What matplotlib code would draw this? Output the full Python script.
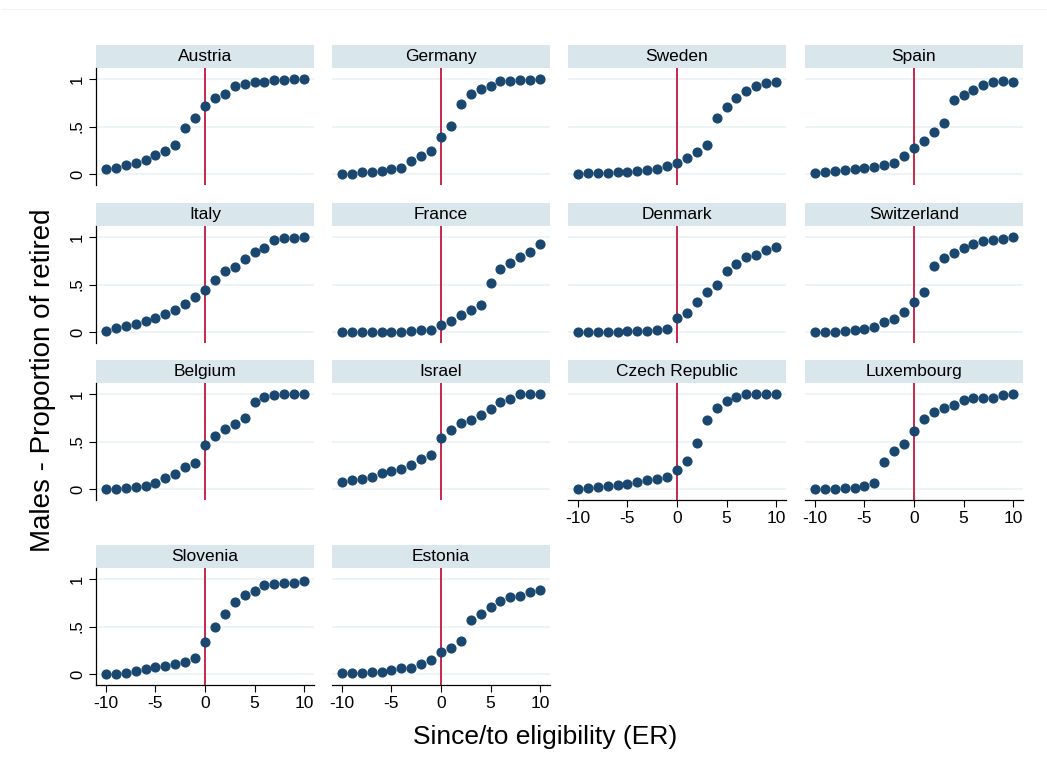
import matplotlib
matplotlib.use("Agg")
import matplotlib.pyplot as plt
import numpy as np

plt.rcParams['font.family'] = ['Liberation Sans', 'DejaVu Sans']

years = list(range(-10, 11))

countries = ["Austria", "Germany", "Sweden", "Spain",
             "Italy", "France", "Denmark", "Switzerland",
             "Belgium", "Israel", "Czech Republic", "Luxembourg",
             "Slovenia", "Estonia"]

austria = [0.05, 0.06, 0.094, 0.12, 0.15, 0.196, 0.24, 0.30, 0.486, 0.594, 0.72,
           0.80, 0.846, 0.923, 0.951, 0.969, 0.969, 0.99, 0.99, 0.997, 0.997]
germany = [0.0, 0.0, 0.017, 0.02, 0.028, 0.05, 0.066, 0.136, 0.185, 0.245, 0.388,
           0.503, 0.734, 0.839, 0.895, 0.93, 0.979, 0.983, 0.986, 0.99, 0.997]
sweden = [0.0, 0.007, 0.007, 0.007, 0.017, 0.02, 0.028, 0.042, 0.056, 0.087, 0.119,
          0.168, 0.231, 0.308, 0.587, 0.703, 0.804, 0.878, 0.923, 0.958, 0.972]
spain = [0.014, 0.021, 0.028, 0.038, 0.049, 0.059, 0.077, 0.094, 0.119, 0.185, 0.273,
         0.35, 0.437, 0.538, 0.78, 0.836, 0.885, 0.941, 0.972, 0.976, 0.969]
italy = [0.014, 0.038, 0.063, 0.087, 0.112, 0.15, 0.189, 0.234, 0.297, 0.364, 0.444,
         0.545, 0.643, 0.689, 0.769, 0.843, 0.888, 0.965, 0.986, 0.993, 0.997]
france = [0.0, 0.0, 0.0, 0.0, 0.0, 0.003, 0.003, 0.007, 0.017, 0.021, 0.07,
          0.112, 0.178, 0.234, 0.28, 0.521, 0.664, 0.731, 0.794, 0.846, 0.923]
denmark = [0.0, 0.0, 0.0, 0.0, 0.0, 0.007, 0.01, 0.014, 0.017, 0.028, 0.143,
           0.2, 0.315, 0.416, 0.49, 0.647, 0.717, 0.794, 0.815, 0.86, 0.892]
switzerland = [0.0, 0.0, 0.0, 0.007, 0.021, 0.035, 0.049, 0.101, 0.14, 0.206, 0.315,
               0.423, 0.699, 0.783, 0.829, 0.888, 0.927, 0.955, 0.965, 0.983, 0.997]
belgium = [0.0, 0.003, 0.01, 0.021, 0.031, 0.066, 0.112, 0.154, 0.227, 0.276, 0.458,
           0.563, 0.636, 0.685, 0.752, 0.913, 0.969, 0.993, 0.997, 0.997, 0.997]
israel = [0.073, 0.091, 0.105, 0.129, 0.168, 0.189, 0.21, 0.255, 0.315, 0.357, 0.535,
          0.619, 0.692, 0.731, 0.776, 0.843, 0.916, 0.948, 1.0, 1.0, 1.0]
czech = [0.004, 0.007, 0.025, 0.035, 0.042, 0.049, 0.074, 0.095, 0.109, 0.123, 0.196,
         0.298, 0.488, 0.726, 0.849, 0.926, 0.968, 0.996, 0.996, 0.996, 1.0]
luxembourg = [0.0, 0.0, 0.004, 0.007, 0.014, 0.028, 0.063, 0.284, 0.396, 0.474, 0.614,
              0.74, 0.807, 0.853, 0.881, 0.937, 0.961, 0.961, 0.961, 0.986, 0.996]
slovenia = [0.0, 0.0, 0.014, 0.031, 0.052, 0.07, 0.087, 0.101, 0.129, 0.171, 0.336,
            0.497, 0.629, 0.755, 0.836, 0.871, 0.937, 0.944, 0.955, 0.962, 0.983]
estonia = [0.007, 0.01, 0.014, 0.024, 0.024, 0.038, 0.059, 0.066, 0.105, 0.147, 0.227,
           0.276, 0.343, 0.573, 0.633, 0.706, 0.769, 0.815, 0.825, 0.864, 0.885]

series = [austria, germany, sweden, spain, italy, france, denmark, switzerland,
          belgium, israel, czech, luxembourg, slovenia, estonia]

W, H = 1047, 775
fig = plt.figure(figsize=(W / 100, H / 100), dpi=100)

col_left = [96, 332, 568, 805]
row_strip_top = [45, 203, 360, 545]
pw, sh, ph = 218, 23, 117

dot_color = "#1a476f"
line_color = "#c4163f"
strip_color = "#d9e6eb"
grid_color = "#eaf2f3"

# x axis is shown on the last panel of each column
bottom_panels = {10, 11, 12, 13}

for i, (name, vals) in enumerate(zip(countries, series)):
    r, c = divmod(i, 4)
    x0 = col_left[c]
    top = row_strip_top[r]
    # strip
    sax = fig.add_axes([x0 / W, 1 - (top + sh) / H, pw / W, sh / H])
    sax.set_facecolor(strip_color)
    sax.set_xticks([])
    sax.set_yticks([])
    for s in sax.spines.values():
        s.set_visible(False)
    sax.text(0.5, 0.5, name, ha="center", va="center", fontsize=12.5,
             transform=sax.transAxes)
    # plot
    ax = fig.add_axes([x0 / W, 1 - (top + sh + ph) / H, pw / W, ph / H])
    ax.set_xlim(-11, 11)
    ax.set_ylim(-0.116, 1.116)
    for yv in [0, 0.5, 1]:
        ax.axhline(yv, color=grid_color, lw=1.2, zorder=0)
    ax.axvline(0, color=line_color, lw=1.3, zorder=1)
    ax.plot(years, vals, "o", color=dot_color, ms=6.3, zorder=3)
    for s in ["top", "right"]:
        ax.spines[s].set_visible(False)
    ax.spines["left"].set_visible(c == 0)
    ax.spines["bottom"].set_visible(i in bottom_panels)
    ax.spines["left"].set_linewidth(0.9)
    ax.spines["bottom"].set_linewidth(0.9)
    if c == 0:
        ax.set_yticks([0, 0.5, 1])
        ax.set_yticklabels(["0", ".5", "1"], rotation=90, va="center")
        ax.tick_params(axis="y", length=5, width=0.8, labelsize=12, pad=3)
    else:
        ax.set_yticks([])
    if i in bottom_panels:
        ax.set_xticks([-10, -5, 0, 5, 10])
        ax.set_xticklabels(["-10", "-5", "0", "5", "10"])
        ax.tick_params(axis="x", length=5, width=0.8, labelsize=12.5, pad=3)
    else:
        ax.set_xticks([])

fig.text(43 / W, 1 - 380 / H, "Males - Proportion of retired", rotation=90,
         ha="center", va="center", fontsize=20)
fig.text(545 / W, 1 - 737 / H, "Since/to eligibility (ER)", ha="center",
         va="center", fontsize=19)

fig.add_artist(plt.Line2D([2 / W, 1], [1 - 9 / H, 1 - 9 / H], color="#f2f2f2",
                          lw=0.8, transform=fig.transFigure))

fig.savefig("out.png", dpi=100, facecolor="white")
